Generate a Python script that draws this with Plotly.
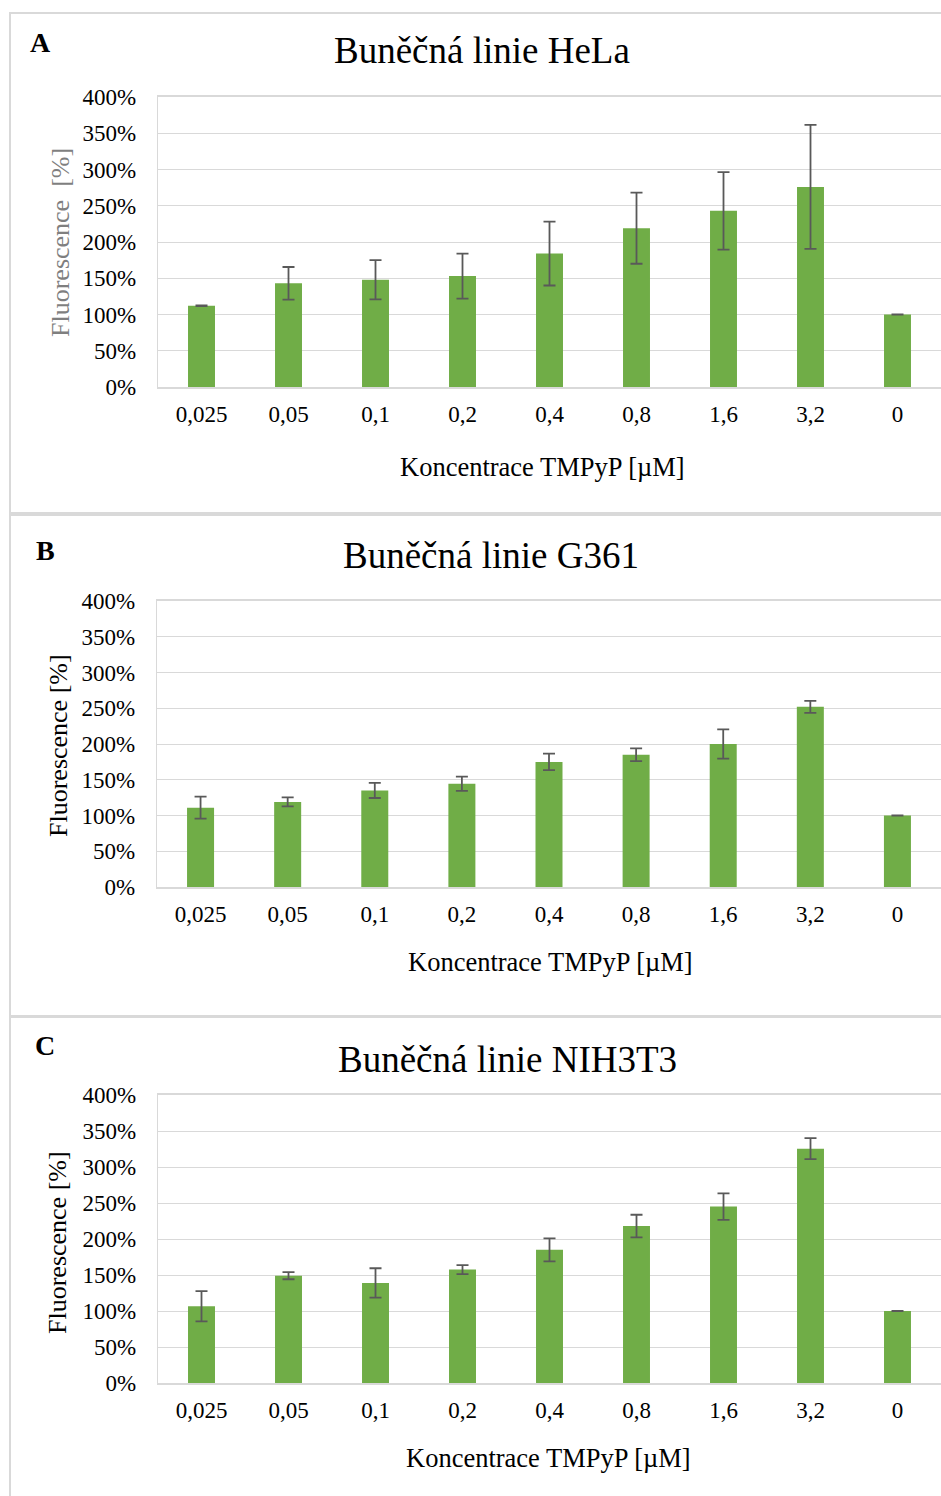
import plotly.graph_objects as go

# Concentrations of TMPyP (category labels on the x axis)
conc = ["0,025", "0,05", "0,1", "0,2", "0,4", "0,8", "1,6", "3,2", "0"]

# Relative fluorescence [%] and its error for each cell line
hela = [112, 143, 148, 153, 184, 219, 243, 276, 100]
hela_err = [0.4, 22.5, 27, 31, 44, 49, 53.5, 85.5, 0.2]

g361 = [111, 119, 135, 144.5, 175, 185, 200, 252, 100]
g361_err = [15.4, 6.3, 10.5, 10, 11.6, 8.9, 20.5, 8.4, 0.2]

nih = [106.5, 149, 139, 157.5, 185, 218, 245, 325.5, 100]
nih_err = [21, 4.9, 20.4, 6.2, 16, 15.7, 18.3, 14.6, 0.2]

y_ticks = [0, 50, 100, 150, 200, 250, 300, 350, 400]
y_ticktext = ["0%", "50%", "100%", "150%", "200%", "250%", "300%", "350%", "400%"]

W, H = 941, 1496
FONT = "Liberation Serif, Times New Roman, serif"
BAR = "#70AD47"
GRID = "#D9D9D9"


def px(x):
    return x / W


def py(y):
    return 1 - y / H


panels = [
    dict(letter="A", title="Buněčná linie HeLa", vals=hela, err=hela_err,
         xdom=(158, 941), ydom=(387, 97), title_xy=(482, 50), letter_xy=(40, 42),
         xt_xy=(542, 467), yt_xy=(60, 243), ytitle="Fluorescence  [%]", ycol="#7F7F7F"),
    dict(letter="B", title="Buněčná linie G361", vals=g361, err=g361_err,
         xdom=(157, 941), ydom=(887, 601), title_xy=(491, 555), letter_xy=(45, 550),
         xt_xy=(550, 962), yt_xy=(58, 746), ytitle="Fluorescence [%]", ycol="#000000"),
    dict(letter="C", title="Buněčná linie NIH3T3", vals=nih, err=nih_err,
         xdom=(158, 941), ydom=(1383, 1095), title_xy=(508, 1059), letter_xy=(45, 1045),
         xt_xy=(548, 1458), yt_xy=(57, 1243), ytitle="Fluorescence [%]", ycol="#000000"),
]

fig = go.Figure()
annotations = []
shapes = []

for i, p in enumerate(panels, start=1):
    xa = "x" if i == 1 else f"x{i}"
    ya = "y" if i == 1 else f"y{i}"
    fig.add_trace(go.Bar(
        x=conc, y=p["vals"], xaxis=xa, yaxis=ya,
        marker=dict(color=BAR, line=dict(width=0)),
        width=0.31,
        error_y=dict(type="data", array=p["err"], visible=True,
                     color="#595959", thickness=1.8, width=6),
        showlegend=False, hoverinfo="skip",
    ))
    xkey = "xaxis" if i == 1 else f"xaxis{i}"
    ykey = "yaxis" if i == 1 else f"yaxis{i}"
    fig.update_layout({
        xkey: dict(
            domain=[px(p["xdom"][0]), min(px(p["xdom"][1]), 1.0)],
            anchor=ya, type="category", range=[-0.5, 8.5], automargin=False,
            showgrid=False, showline=True, mirror=True, linecolor=GRID, linewidth=1.5,
            ticks="", tickfont=dict(family=FONT, size=23, color="#000000"),
            ticklabelstandoff=6, fixedrange=True,
        ),
        ykey: dict(
            domain=[py(p["ydom"][0]), py(p["ydom"][1])],
            anchor=xa, range=[0, 400], tickmode="array",
            tickvals=y_ticks, ticktext=y_ticktext, automargin=False,
            showgrid=True, gridcolor=GRID, gridwidth=1.3,
            showline=True, mirror=True, linecolor=GRID, linewidth=1.3,
            zeroline=False, ticks="",
            tickfont=dict(family=FONT, size=23, color="#000000"),
            ticklabelstandoff=16, fixedrange=True,
        ),
    })
    annotations += [
        dict(text=p["title"], x=px(p["title_xy"][0]), y=py(p["title_xy"][1]),
             xref="paper", yref="paper", xanchor="center", yanchor="middle",
             showarrow=False, font=dict(family=FONT, size=37, color="#000000")),
        dict(text=f"<b>{p['letter']}</b>", x=px(p["letter_xy"][0]), y=py(p["letter_xy"][1]),
             xref="paper", yref="paper", xanchor="center", yanchor="middle",
             showarrow=False, font=dict(family=FONT, size=28, color="#000000")),
        dict(text="Koncentrace TMPyP [µM]", x=px(p["xt_xy"][0]), y=py(p["xt_xy"][1]),
             xref="paper", yref="paper", xanchor="center", yanchor="middle",
             showarrow=False, font=dict(family=FONT, size=26.5, color="#000000")),
        dict(text=p["ytitle"], x=px(p["yt_xy"][0]), y=py(p["yt_xy"][1]),
             xref="paper", yref="paper", xanchor="center", yanchor="middle",
             textangle=-90, showarrow=False,
             font=dict(family=FONT, size=26, color=p["ycol"])),
    ]

# Frames around the three panels
for top, bottom in [(13, 513), (515, 1016), (1017, 1500)]:
    shapes.append(dict(type="rect", xref="paper", yref="paper",
                       x0=px(10), x1=px(960), y0=py(bottom), y1=py(top),
                       line=dict(color=GRID, width=2), layer="below"))

fig.update_layout(
    template="none",
    width=W, height=H, margin=dict(l=0, r=0, t=0, b=0, pad=0),
    paper_bgcolor="white", plot_bgcolor="white",
    annotations=annotations, shapes=shapes, bargap=0.69,
)

fig.write_html("out.html")
